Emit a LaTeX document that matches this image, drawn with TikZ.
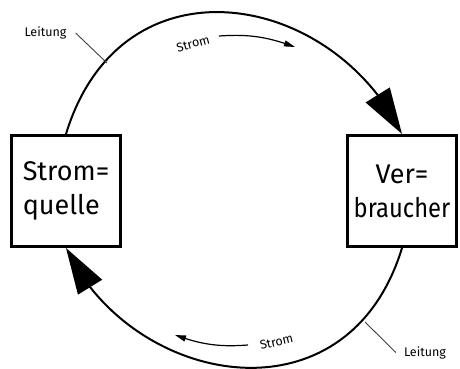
\documentclass[tikz,border=0pt]{standalone}
\usepackage{fontspec}
\setmainfont{Fira Sans}
\newfontfamily\narrowfont{Fira Sans}[FakeStretch=0.88]
\usetikzlibrary{arrows.meta,bending}
\begin{document}
\begin{tikzpicture}[x=1pt,y=1pt,
  box/.style={draw,line width=2.7pt,minimum width=109.3pt,minimum height=111.3pt,inner sep=0pt,
    font=\fontsize{27}{34}\selectfont},
  wire/.style={line width=2pt},
  bigtip/.style={-{Triangle[length=46pt,width=28pt,flex]}},
  flow/.style={line width=1.2pt,-{Triangle[length=11pt,width=6pt]}},
  lbl/.style={font=\fontsize{12.5}{14}\selectfont,inner sep=1pt},
  leader/.style={line width=0.9pt,black!75}]
\useasboundingbox (0,0) rectangle (460,369);
\node[box,align=left] (q) at (66,178) {Strom=\\quelle};
\node[box,align=center] (v) at (402,178) {Ver=\\{\narrowfont braucher}};
% main wires
\draw[wire,bigtip] (q.north) to[out=73,in=116,out looseness=1.44,in looseness=1.22] (v.north);
\draw[wire,bigtip] (v.south) to[out=253,in=295,out looseness=1.44,in looseness=1.16] (q.south);
% current arrows
\coordinate (a1) at (219,333);
\coordinate (a2) at (295,322);
\coordinate (b1) at (248,24);
\coordinate (b2) at (175,34);
\draw[flow] (a1) to[bend left=12] (a2);
\draw[flow] (b1) to[bend left=12] (b2);
\node[lbl,rotate=15] (s1) at (193,325.5) {Strom};
\node[lbl,rotate=13] (s2) at (276.5,27) {Strom};
% Leitung labels
\node[lbl] (l1) at (45.5,336) {Leitung};
\node[lbl] (l2) at (425,16.5) {Leitung};
\coordinate (w1) at (107,306);
\coordinate (w2) at (365,47);
\draw[leader] ([xshift=8pt]l1.east) -- (w1);
\draw[leader] (w2) -- ([xshift=-7pt]l2.west);
\end{tikzpicture}
\end{document}
